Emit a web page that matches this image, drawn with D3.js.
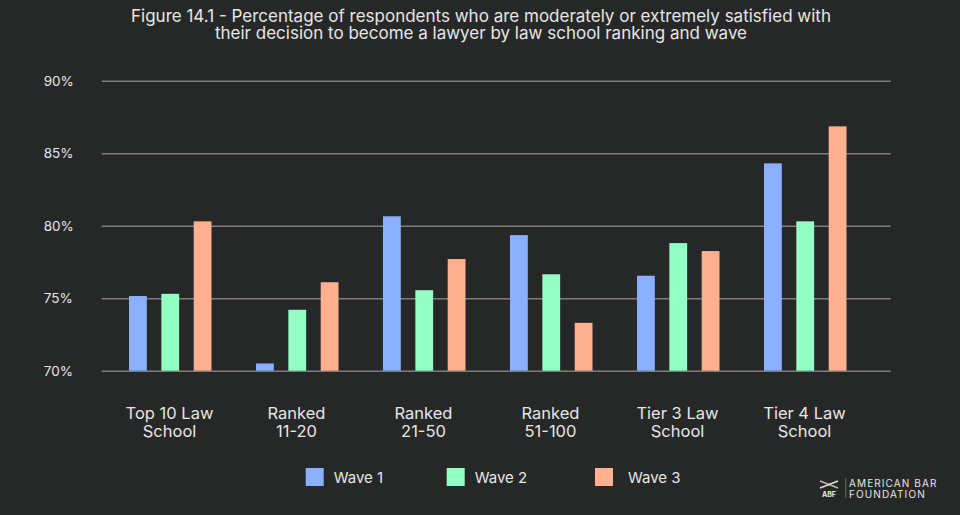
<!DOCTYPE html>
<html><head><meta charset="utf-8">
<script src="https://cdn.jsdelivr.net/npm/d3@7"></script>
<style>
html,body{margin:0;padding:0;background:#262828;}
svg{display:block;}
text{font-family:Inter,"Noto Sans",sans-serif;fill:#e6e6e6;}
</style></head>
<body>
<svg id="chart" width="960" height="515"></svg>
<script>
const categories = [["Top 10 Law","School"],["Ranked","11-20"],["Ranked","21-50"],["Ranked","51-100"],["Tier 3 Law","School"],["Tier 4 Law","School"]];
const seriesNames = ["Wave 1","Wave 2","Wave 3"];
const wave1 = [75.15, 70.5, 80.65, 79.35, 76.55, 84.3];
const wave2 = [75.3, 74.2, 75.55, 76.65, 78.8, 80.3];
const wave3 = [80.3, 76.1, 77.7, 73.3, 78.25, 86.85];
const yTicks = [70, 75, 80, 85, 90];
const titleLines = ["Figure 14.1 - Percentage of respondents who are moderately or extremely satisfied with",
                    "their decision to become a lawyer by law school ranking and wave"];
const colors = ["#8AB0FF", "#94FFC4", "#FFB091"];

const svg = d3.select("#chart");
svg.append("rect").attr("width",960).attr("height",515).attr("fill","#262828");

const series = [wave1, wave2, wave3];
const y = d3.scaleLinear().domain([70, 90]).range([370.7, 80.7]);
const x0 = d3.scaleBand().domain(d3.range(categories.length)).range([106, 868]);
const x1 = d3.scaleBand().domain(d3.range(3)).range([-40.5, 42]).paddingInner(0.45).paddingOuter(0);

// title
svg.append("g").selectAll("text").data(titleLines).join("text")
  .attr("x", 481).attr("y", (d,i)=>22 + i*17)
  .attr("text-anchor","middle").attr("font-size", 17)
  .text(d=>d);

// grid
const yAxis = d3.axisLeft(y).tickValues(yTicks).tickSize(-789).tickFormat(d=>d+"%");
const gy = svg.append("g").attr("transform","translate(101.7,0)").call(yAxis);
gy.select(".domain").remove();
gy.selectAll(".tick line").attr("stroke","#7d7d7d").attr("stroke-width",1.6);
gy.selectAll(".tick text").attr("x",-58).attr("text-anchor","start").attr("font-size",13.5).attr("fill","#dcdcdc");

// bars
const groups = svg.append("g").selectAll("g").data(categories).join("g")
  .attr("transform",(d,i)=>`translate(${x0(i)+x0.bandwidth()/2},0)`);
groups.selectAll("rect").data((d,i)=>series.map((s,k)=>({k, v:s[i]}))).join("rect")
  .attr("x", d=>x1(d.k)).attr("width", x1.bandwidth())
  .attr("y", d=>y(d.v)).attr("height", d=>y(70)-y(d.v))
  .attr("fill", d=>colors[d.k]);

// category labels
groups.selectAll("text.cat").data(d=>d).join("text").attr("class","cat")
  .attr("text-anchor","middle").attr("font-size",16.5)
  .attr("x",0).attr("y",(d,i)=>419 + i*17.5).text(d=>d);

// legend
const legX = [305.7, 446.7, 595];
const lg = svg.append("g").selectAll("g").data(seriesNames).join("g")
  .attr("transform",(d,i)=>`translate(${legX[i]},468)`);
lg.append("rect").attr("width",18).attr("height",18).attr("fill",(d,i)=>colors[i]);
lg.append("text").attr("x",(d,i)=>i==2?33:28).attr("y",14.5).attr("font-size",15).text(d=>d);

// logo
const logo = svg.append("g");
logo.append("line").attr("x1",820).attr("y1",481).attr("x2",838).attr("y2",488).attr("stroke","#c8b4a8").attr("stroke-width",1.5);
logo.append("line").attr("x1",820).attr("y1",488).attr("x2",838).attr("y2",481).attr("stroke","#e0e0e0").attr("stroke-width",1.5);
logo.append("text").attr("x",829).attr("y",497).attr("text-anchor","middle").attr("font-size",7).attr("font-weight","bold").text("ABF");
logo.append("line").attr("x1",845.7).attr("y1",478).attr("x2",845.7).attr("y2",498).attr("stroke","#777").attr("stroke-width",0.8);
logo.append("text").attr("x",849).attr("y",486.7).attr("font-size",10).attr("letter-spacing",1.1).text("AMERICAN BAR");
logo.append("text").attr("x",849).attr("y",497.5).attr("font-size",10).attr("letter-spacing",1.1).text("FOUNDATION");
</script>
</body></html>
